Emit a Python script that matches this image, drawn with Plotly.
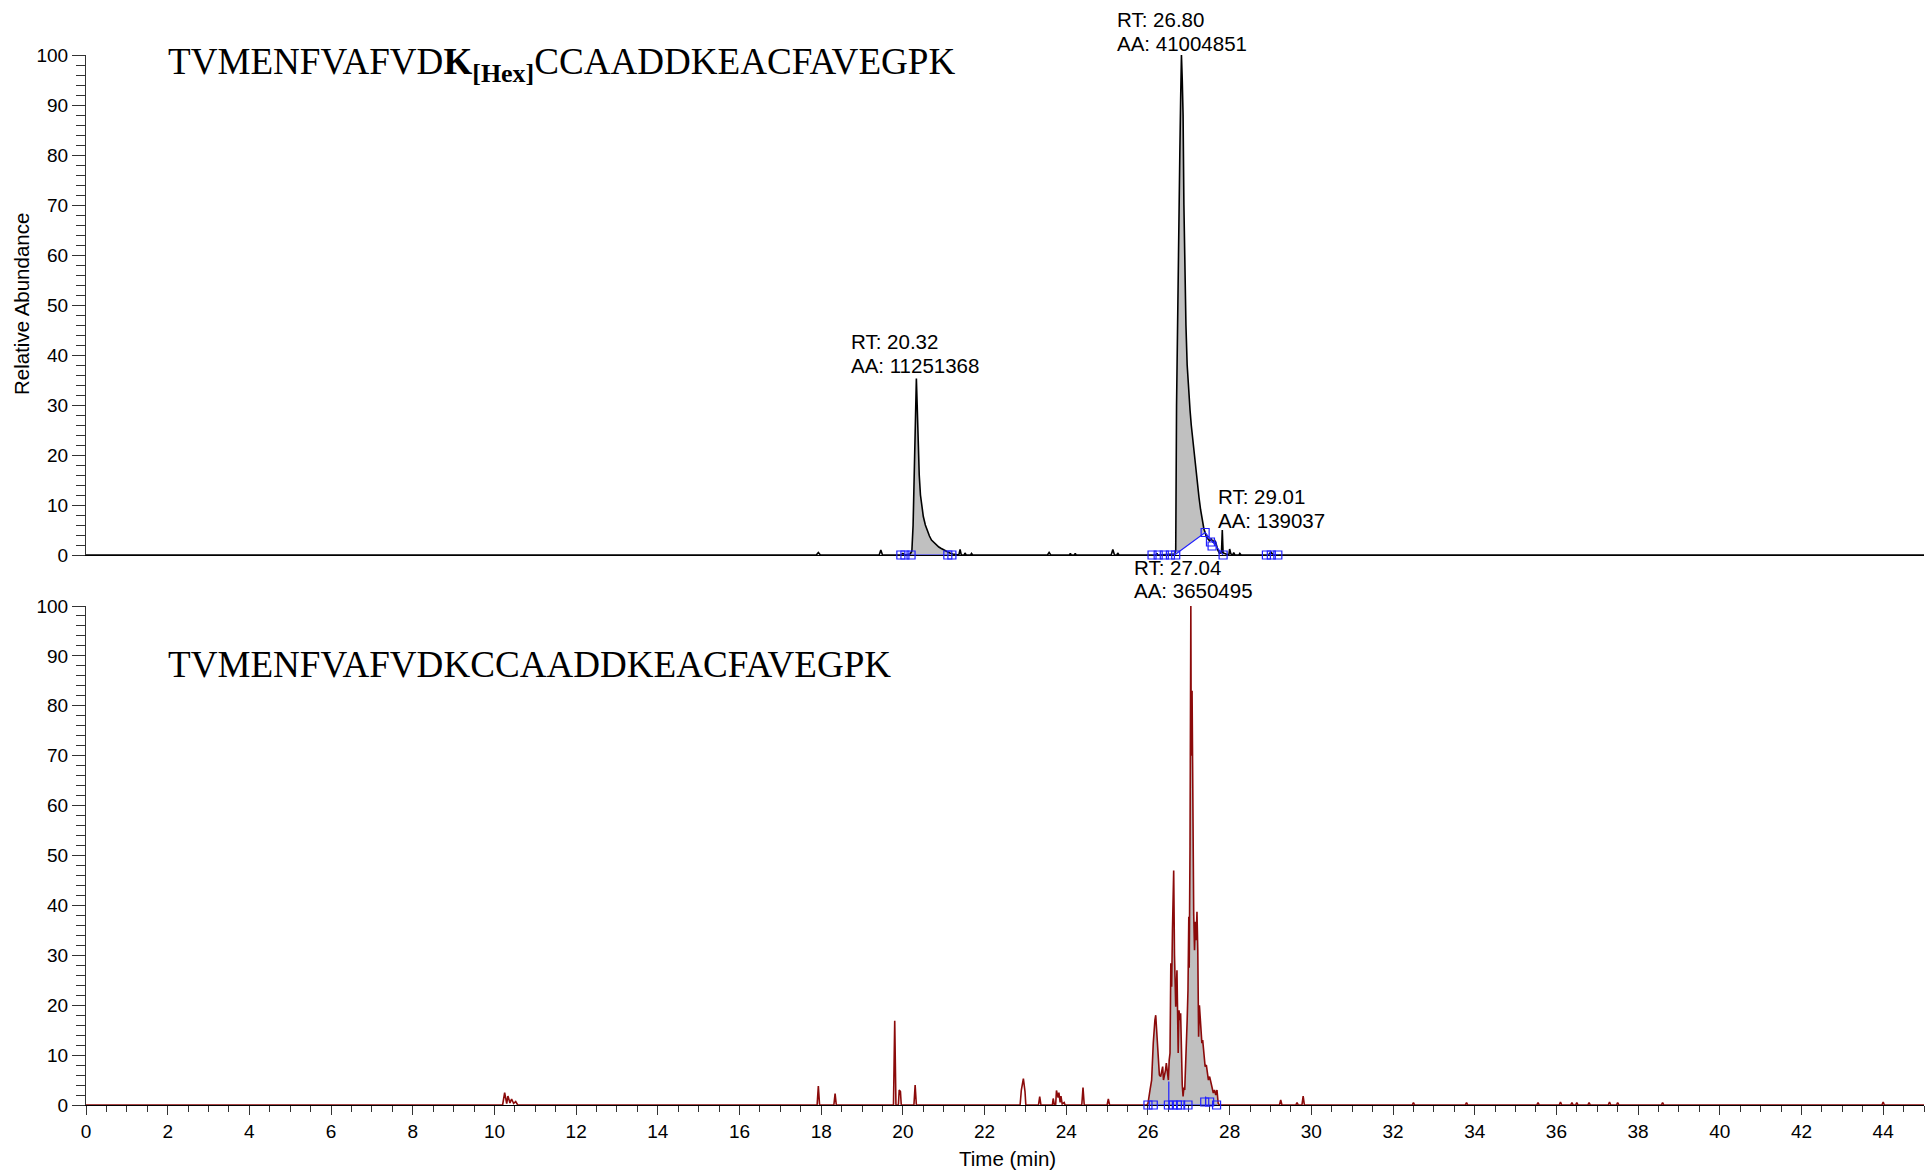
import plotly.graph_objects as go

# ---------------- data (time in min, relative abundance in %) ----------------
TOP_XIC = [
    (0.00, 0), (17.88, 0), (17.93, 0.5), (17.98, 0), (19.42, 0), (19.46, 1.0), (19.50, 0),
    (19.95, 0), (20.00, 0.3), (20.05, 0), (20.18, 0.2), (20.22, 0.8), (20.25, 6), (20.28, 18),
    (20.30, 27), (20.33, 35.3), (20.35, 30), (20.37, 23), (20.40, 16), (20.43, 12), (20.46, 9.8),
    (20.50, 7.7), (20.55, 6), (20.60, 4.8), (20.65, 3.8), (20.70, 3.0), (20.76, 2.5), (20.82, 2.0),
    (20.88, 1.6), (20.94, 1.3), (21.00, 1.0), (21.08, 0.7), (21.15, 0.4), (21.22, 0.2), (21.30, 0.1),
    (21.37, 0), (21.40, 1.1), (21.43, 0), (21.50, 0), (21.52, 0.4), (21.55, 0), (21.66, 0),
    (21.68, 0.3), (21.71, 0), (23.54, 0), (23.58, 0.5), (23.62, 0), (24.08, 0), (24.10, 0.3),
    (24.12, 0), (24.20, 0), (24.22, 0.3), (24.24, 0), (25.10, 0), (25.14, 1.1), (25.18, 0),
    (25.24, 0), (25.26, 0.4), (25.29, 0), (26.20, 0), (26.22, 0.3), (26.24, 0), (26.65, 0.2),
    (26.68, 1.0), (26.70, 30), (26.72, 45), (26.75, 62), (26.78, 80), (26.80, 91), (26.82, 100),
    (26.84, 95), (26.86, 88), (26.88, 70), (26.90, 58), (26.93, 46), (26.96, 38), (27.00, 32),
    (27.03, 29), (27.06, 26), (27.09, 23.5), (27.13, 20), (27.17, 17), (27.21, 14.5), (27.25, 11.5),
    (27.29, 9), (27.33, 7), (27.37, 5.2), (27.40, 4.5), (27.43, 3.6), (27.47, 3.2), (27.51, 2.8),
    (27.55, 3.3), (27.59, 2.5), (27.63, 3.0), (27.67, 2.2), (27.71, 1.0), (27.75, 0.3), (27.80, 0.5),
    (27.82, 5), (27.84, 0.4), (27.90, 0.2), (27.98, 0), (28.00, 1.2), (28.03, 0.2), (28.08, 0),
    (28.10, 0.5), (28.13, 0), (28.23, 0), (28.25, 0.3), (28.28, 0), (28.95, 0), (29.01, 0.6),
    (29.07, 0), (45.00, 0),
]

BOT_XIC = [
    (0.00, 0), (10.20, 0), (10.25, 2.5), (10.30, 0.3), (10.33, 1.8), (10.38, 0.4), (10.42, 1.2),
    (10.47, 0.3), (10.52, 0.7), (10.57, 0), (17.90, 0), (17.93, 3.8), (17.96, 0), (18.31, 0),
    (18.34, 2.3), (18.37, 0), (19.77, 0), (19.80, 16.9), (19.83, 0), (19.89, 0), (19.91, 3),
    (19.94, 2.7), (19.96, 0), (20.27, 0), (20.30, 4), (20.33, 0), (22.87, 0), (22.90, 3),
    (22.95, 5.3), (22.99, 2.7), (23.01, 0), (23.32, 0), (23.35, 1.7), (23.38, 0), (23.66, 0),
    (23.68, 1.3), (23.71, 0), (23.74, 0), (23.76, 2.9), (23.80, 1.5), (23.82, 2.5), (23.85, 0.5),
    (23.87, 1.8), (23.90, 0.2), (23.95, 0.5), (23.97, 0), (24.38, 0), (24.41, 3.5), (24.44, 0),
    (25.00, 0), (25.03, 1.2), (25.06, 0), (25.97, 0), (26.00, 0.3), (26.05, 3), (26.09, 5),
    (26.13, 12.4), (26.15, 16), (26.17, 17), (26.19, 18), (26.21, 15), (26.23, 13), (26.26, 8.4),
    (26.28, 6), (26.31, 5.7), (26.34, 7), (26.36, 7.7), (26.38, 5), (26.40, 5.7), (26.43, 7),
    (26.45, 8.4), (26.48, 5.5), (26.50, 5), (26.52, 9), (26.54, 10.4), (26.56, 28.4), (26.58, 23.7),
    (26.60, 35), (26.63, 47), (26.65, 30), (26.66, 26.4), (26.68, 19.7), (26.71, 27), (26.73, 15),
    (26.74, 10.4), (26.76, 19), (26.78, 17), (26.80, 18.4), (26.82, 9.7), (26.84, 4), (26.86, 1.7),
    (26.88, 3.5), (26.90, 3), (26.92, 7), (26.94, 11), (26.96, 17), (26.98, 23), (27.00, 37.7),
    (27.01, 27.5), (27.03, 52), (27.05, 100), (27.06, 70), (27.08, 83), (27.10, 55), (27.12, 38.4),
    (27.14, 31), (27.16, 36.7), (27.18, 33), (27.20, 38.7), (27.22, 31), (27.24, 13.7), (27.26, 20),
    (27.28, 17.7), (27.30, 14), (27.32, 12.4), (27.34, 13), (27.37, 9.7), (27.40, 7.7), (27.43, 8),
    (27.46, 6), (27.48, 5), (27.51, 5.7), (27.54, 4.4), (27.57, 3.5), (27.60, 2.4), (27.63, 3),
    (27.66, 2), (27.69, 3), (27.72, 0.3), (27.75, 0), (29.22, 0), (29.25, 1), (29.28, 0),
    (29.62, 0), (29.65, 0.5), (29.68, 0), (29.77, 0), (29.80, 1.8), (29.83, 0), (32.47, 0),
    (32.50, 0.5), (32.53, 0), (33.77, 0), (33.80, 0.5), (33.83, 0), (35.52, 0), (35.55, 0.5),
    (35.58, 0), (36.07, 0), (36.10, 0.6), (36.13, 0), (36.35, 0), (36.38, 0.5), (36.41, 0),
    (36.47, 0), (36.50, 0.5), (36.53, 0), (36.77, 0), (36.80, 0.5), (36.83, 0), (37.27, 0),
    (37.30, 0.6), (37.33, 0), (37.47, 0), (37.50, 0.5), (37.53, 0), (38.57, 0), (38.60, 0.5),
    (38.63, 0), (43.97, 0), (44.00, 0.6), (44.03, 0), (45.00, 0),
]

# integrated areas: (start time, baseline at start, end time, baseline at end)
TOP_AREAS = [(20.18, 0, 21.30, 0), (26.65, 0, 27.40, 4.5), (27.40, 4.5, 27.84, 0)]
BOT_AREAS = [(26.00, 0, 27.72, 0)]

# integration baselines (blue)
TOP_BASELINES = [
    [(19.95, 0), (21.15, 0)],
    [(26.10, 0), (26.65, 0), (27.40, 4.5), (27.84, 0)],
    [(28.90, 0), (29.20, 0)],
]
BOT_BASELINES = [
    [(26.00, 0), (27.70, 0)],
    [(26.51, 0), (26.51, 4.7)],
    [(27.41, 0), (27.41, 1.7)],
]
TOP_MARKS = [(19.95, 0), (20.05, 0), (20.20, 0), (21.10, 0), (21.20, 0), (26.10, 0), (26.25, 0),
             (26.40, 0), (26.55, 0), (26.68, 0), (27.40, 4.5), (27.53, 2.6), (27.57, 1.8),
             (27.84, 0), (28.90, 0), (29.02, 0), (29.18, 0)]
BOT_MARKS = [(26.00, 0), (26.13, 0), (26.50, 0), (26.62, 0), (26.72, 0), (26.80, 0), (26.98, 0),
             (27.39, 0.6), (27.51, 0.6), (27.68, 0)]

# peak labels: (line1, line2, time at text left edge)
TOP_LABELS = [
    ("RT: 26.80", "AA: 41004851", 25.19),
    ("RT: 20.32", "AA: 11251368", 18.69),
    ("RT: 29.01", "AA: 139037", 27.67),
]
BOT_LABELS = [
    ("RT: 27.04", "AA: 3650495", 25.62),
]

PEPTIDE_TOP = "TVMENFVAFVD<b>K<sub>[Hex]</sub></b>CCAADDKEACFAVEGPK"
PEPTIDE_BOT = "TVMENFVAFVDKCCAADDKEACFAVEGPK"

X_RANGE = [0, 45]
Y_RANGE = [0, 100]

# ---------------- layout / styles ----------------
W, H = 1930, 1176
ML, MR, MT, MB = 86, 6, 55, 71
PW, PH = W - ML - MR, H - MT - MB
TOP_DOM = [(H - MB - 555) / PH, 1.0]
BOT_DOM = [0.0, (H - MB - 606) / PH]

# label line centres in page pixels (line1, line2)
TOP_LABEL_Y = [(20, 43), (341.7, 365.2), (496.7, 520)]
BOT_LABEL_Y = [(567.8, 590.5)]


def py(ypx):
    return (H - MB - ypx) / PH


def pxx(xpx):
    return (xpx - ML) / PW


BLACK = "#000000"
RED = "#8b0a0a"
GRAY = "#c0c0c0"
BLUE = "#2020ff"
SANS = "Liberation Sans, Arial, Helvetica, sans-serif"
SERIF = "Liberation Serif, Times New Roman, serif"

fig = go.Figure()


def add_panel(xic, areas, baselines, marks, color, xa, ya):
    ts = [p[0] for p in xic]
    vs = [p[1] for p in xic]
    for (t0, b0, t1, b1) in areas:
        fx = [t for t in ts if t0 <= t <= t1] + [t1, t0]
        fy = [v for t, v in zip(ts, vs) if t0 <= t <= t1] + [b1, b0]
        fig.add_trace(go.Scatter(x=fx, y=fy, xaxis=xa, yaxis=ya, mode="lines",
                                 fill="toself", fillcolor=GRAY, line=dict(width=0),
                                 hoverinfo="skip", showlegend=False))
    fig.add_trace(go.Scatter(x=ts, y=vs, xaxis=xa, yaxis=ya, mode="lines",
                             line=dict(color=color, width=1.6), showlegend=False))
    for seg in baselines:
        fig.add_trace(go.Scatter(x=[p[0] for p in seg], y=[p[1] for p in seg], xaxis=xa, yaxis=ya,
                                 mode="lines", line=dict(color=BLUE, width=1.2),
                                 cliponaxis=False, showlegend=False))
    fig.add_trace(go.Scatter(x=[p[0] for p in marks], y=[p[1] for p in marks], xaxis=xa, yaxis=ya,
                             mode="markers", cliponaxis=False,
                             marker=dict(symbol="square-open", size=8, color=BLUE,
                                         line=dict(width=1.2, color=BLUE)),
                             showlegend=False))


add_panel(TOP_XIC, TOP_AREAS, TOP_BASELINES, TOP_MARKS, BLACK, "x", "y")
add_panel(BOT_XIC, BOT_AREAS, BOT_BASELINES, BOT_MARKS, RED, "x2", "y2")

tick_font = dict(family=SANS, size=19, color=BLACK)
yax = dict(range=Y_RANGE, dtick=10, tick0=0, ticks="outside", ticklen=13, tickwidth=1,
           tickcolor="#333333", showline=True, linecolor="#333333", linewidth=1,
           showgrid=False, zeroline=False, tickfont=tick_font,
           minor=dict(dtick=2, ticks="outside", ticklen=9, tickwidth=1, tickcolor="#333333",
                      showgrid=False))

fig.update_layout(
    width=W, height=H,
    margin=dict(l=ML, r=MR, t=MT, b=MB),
    paper_bgcolor="white", plot_bgcolor="white",
    xaxis=dict(domain=[0, 1], range=X_RANGE, anchor="y", showticklabels=False, ticks="",
               showline=True, linecolor=BLACK, linewidth=1, showgrid=False, zeroline=False,
               layer="below traces"),
    yaxis=dict(domain=TOP_DOM, anchor="x", **yax),
    xaxis2=dict(domain=[0, 1], range=X_RANGE, anchor="y2", dtick=2, tick0=0, ticks="outside",
                ticklen=9, tickwidth=1, tickcolor="#333333", showline=True, linecolor=BLACK,
                linewidth=1, showgrid=False, zeroline=False, tickfont=tick_font,
                layer="below traces",
                minor=dict(dtick=0.5, ticks="outside", ticklen=6, tickwidth=1,
                           tickcolor="#333333", showgrid=False)),
    yaxis2=dict(domain=BOT_DOM, anchor="x2", **yax),
)

ann = []
lab_font = dict(family=SANS, size=20.5, color=BLACK)
for (l1, l2, tx), (y1, y2) in zip(TOP_LABELS, TOP_LABEL_Y):
    for txt, yy in ((l1, y1), (l2, y2)):
        ann.append(dict(x=tx, y=py(yy), xref="x", yref="paper", text=txt, showarrow=False,
                        xanchor="left", yanchor="middle", font=lab_font))
for (l1, l2, tx), (y1, y2) in zip(BOT_LABELS, BOT_LABEL_Y):
    for txt, yy in ((l1, y1), (l2, y2)):
        ann.append(dict(x=tx, y=py(yy), xref="x2", yref="paper", text=txt, showarrow=False,
                        xanchor="left", yanchor="middle", font=lab_font))

pep_font = dict(family=SERIF, size=37.1, color=BLACK)
ann.append(dict(x=pxx(166), y=py(39), xref="paper", yref="paper",
                text=PEPTIDE_TOP, showarrow=False, xanchor="left", yanchor="top", font=pep_font))
ann.append(dict(x=pxx(166), y=py(642), xref="paper", yref="paper",
                text=PEPTIDE_BOT, showarrow=False, xanchor="left", yanchor="top", font=pep_font))

ann.append(dict(x=pxx(22), y=py(304), xref="paper", yref="paper",
                text="Relative Abundance", textangle=-90, showarrow=False,
                xanchor="center", yanchor="middle", font=dict(family=SANS, size=20.5, color=BLACK)))
ann.append(dict(x=pxx(1007), y=py(1158), xref="paper", yref="paper",
                text="Time (min)", showarrow=False, xanchor="center", yanchor="middle",
                font=dict(family=SANS, size=20.5, color=BLACK)))

fig.update_layout(annotations=ann)

fig.write_html("out.html", config={"displayModeBar": False},
               post_script="document.body.style.margin='0';")
